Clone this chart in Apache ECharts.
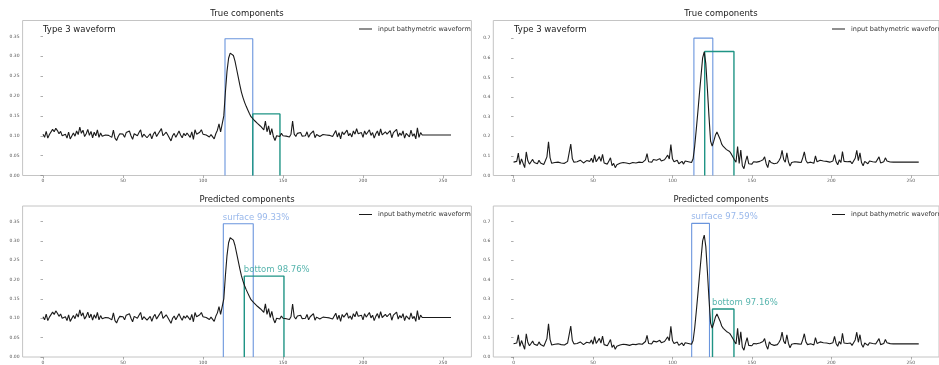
<!DOCTYPE html>
<html><head><meta charset="utf-8">
<script src="https://cdn.jsdelivr.net/npm/echarts@6/dist/echarts.min.js"></script>
<style>html,body{margin:0;padding:0;background:#fff}#c{width:939px;height:365px}</style>
</head><body><div id="c"></div>
<script>
// ---- left waveform (index 0..255) ----
const leftPre = [
0.104,0.096,0.111,0.094,0.103,0.098,0.116,0.110,0.119,0.113,
0.105,0.111,0.100,0.098,0.104,0.094,0.109,0.092,0.088,0.107,
0.099,0.112,0.103,0.122,0.106,0.114,0.098,0.105,0.116,0.101,
0.111,0.095,0.109,0.100,0.115,0.096,0.107,0.099,0.104,0.102,
0.097,0.101,0.100,0.096,0.114,0.094,0.088,0.098,0.105,0.100,
0.104,0.096,0.108,0.103,0.112,0.100,0.091,0.105,0.110,0.100,
0.108,0.115,0.096,0.104,0.101,0.095,0.100,0.105,0.092,0.104,
0.110,0.098,0.105,0.102,0.118,0.100,0.095,0.109,0.102,0.107,
0.087,0.100,0.106,0.096,0.104,0.112,0.102,0.095,0.106,0.100,
0.107,0.103,0.096,0.110,0.091,0.115,0.104,0.100,0.109,0.115,
0.104,0.107,0.102,0.100,0.097,0.103,0.099,0.092,0.105,0.114,
0.130,0.110];
const leftPulse = [
0.108,0.150,0.210,0.262,0.295,0.308,0.310,0.302,0.288,0.268,
0.248,0.228,0.210,0.196,0.184,0.174,0.165,0.156,0.148,0.143,
0.139,0.136,0.131,0.128,0.124,0.120,0.115,0.137,0.110,0.125,
0.102,0.118,0.098,0.088];
const leftPost = [
0.100,0.104,0.098,0.106,0.100,0.103,0.099,0.101,0.097,0.104,
0.137,0.104,0.098,0.106,0.101,0.108,0.099,0.103,0.100,0.110,
0.096,0.104,0.101,0.112,0.095,0.103,0.100,0.098,0.101,0.103,
0.100,0.102,0.099,0.101,0.104,0.098,0.102,0.113,0.097,0.108,
0.092,0.110,0.103,0.099,0.114,0.100,0.106,0.097,0.112,0.104,
0.118,0.105,0.100,0.108,0.096,0.112,0.103,0.099,0.115,0.101,
0.108,0.094,0.105,0.112,0.100,0.117,0.102,0.097,0.110,0.104,
0.099,0.113,0.095,0.108,0.103,0.116,0.098,0.107,0.101,0.112,
0.094,0.106,0.110,0.097,0.114,0.099,0.105,0.092,0.120,0.096,
0.108,0.102];
const leftTail = [0.102,0.102,0.102,0.102,0.102,0.102,0.102,0.102,0.102,
0.102,0.102,0.102,0.102,0.102,0.102,0.102,0.102,0.102];

// ---- right waveform (index 0..255) ----
const rightPre = [
0.068,0.060,0.072,0.114,0.055,0.085,0.062,0.040,0.120,0.075,
0.058,0.070,0.082,0.066,0.072,0.060,0.078,0.064,0.070,0.056,
0.075,0.095,0.172,0.090,0.062,0.070,0.066,0.074,0.068,0.078,
0.064,0.070,0.062,0.058,0.072,0.080,0.160,0.085,0.068,0.074,
0.070,0.066,0.078,0.072,0.064,0.070,0.076,0.068,0.072,0.088,
0.066,0.105,0.070,0.060,0.096,0.072,0.108,0.064,0.070,0.058,
0.074,0.090,0.050,0.062,0.040,0.055,0.048,0.062,0.052,0.066,
0.058,0.064,0.068,0.060,0.070,0.066,0.072,0.064,0.074,0.068,
0.076,0.066,0.072,0.080,0.112,0.070,0.076,0.068,0.082,0.072,
0.078,0.070,0.086,0.074,0.068,0.080,0.092,0.104,0.084,0.158,
0.085,0.070,0.064,0.078,0.060,0.066,0.072,0.058,0.074,0.064,
0.070,0.062,0.066];
const rightPulse = [
0.085,0.150,0.235,0.325,0.420,0.510,0.600,0.630,0.570,0.440,
0.300,0.175,0.150,0.175,0.205,0.222,0.215,0.185,0.160,0.148,
0.140,0.132,0.128,0.122,0.110,0.095];
const rightPost = [
0.080,0.068,0.148,0.062,0.130,0.050,0.035,0.072,0.100,0.060,
0.066,0.058,0.070,0.064,0.068,0.062,0.072,0.066,0.080,0.095,
0.060,0.040,0.078,0.066,0.072,0.060,0.070,0.064,0.075,0.090,
0.128,0.082,0.068,0.115,0.070,0.048,0.066,0.058,0.070,0.062,
0.068,0.074,0.066,0.090,0.120,0.078,0.064,0.072,0.068,0.076,
0.062,0.100,0.070,0.066,0.078,0.070,0.074,0.064,0.072,0.080,
0.068,0.062,0.074,0.107,0.070,0.055,0.080,0.066,0.122,0.072,
0.064,0.070,0.066,0.072,0.060,0.074,0.088,0.128,0.076,0.115,
0.066,0.050,0.072,0.068,0.060,0.074,0.066,0.070,0.062,0.068,
0.072,0.095,0.064,0.058,0.070,0.090,0.074,0.066,0.069];
const rightTail = [0.068,0.068,0.068,0.068,0.068,0.068,0.068,0.068,0.068,
0.068,0.068,0.068,0.068,0.068,0.068,0.068,0.068,0.068];

// ---- component boxes: [start index, end index, height] ----
const trueLeftSurface = [113.75, 131.1, 0.344];
const trueLeftBottom = [131.1, 148.1, 0.155];
const trueRightSurface = [113.5, 125.4, 0.700];
const trueRightBottom = [120.3, 138.7, 0.632];
const predLeftSurface = [112.7, 131.4, 0.344];
const predLeftBottom = [125.8, 150.6, 0.209];
const predRightSurface = [112.1, 123.3, 0.690];
const predRightBottom = [125.2, 138.7, 0.248];
const predLeftLabels = ['surface 99.33%', 'bottom 98.76%'];
const predRightLabels = ['surface 97.59%', 'bottom 97.16%'];

const xTicks = [0, 50, 100, 150, 200, 250];
const leftYTicks = [0, 0.05, 0.10, 0.15, 0.20, 0.25, 0.30, 0.35];
const rightYTicks = [0, 0.1, 0.2, 0.3, 0.4, 0.5, 0.6, 0.7];

const leftWave = leftPre.concat(leftPulse, leftPost, leftTail);
const rightWave = rightPre.concat(rightPulse, rightPost, rightTail);

const FONT = 'DejaVu Sans';
const SURF = '#6a95dd', BOT = '#1f9485';
const SURF_T = '#7fa6e6', BOT_T = '#2ea39a';
const LEG = 'input bathymetric waveform';

const panels = [
  {wave: leftWave, yMax: 0.39, yTicks: leftYTicks, dec: 2, boxes: [trueLeftSurface, trueLeftBottom], labels: null,
   grid: {left: 22.6, top: 20.5, width: 448.8, height: 155}},
  {wave: rightWave, yMax: 0.79, yTicks: rightYTicks, dec: 1, boxes: [trueRightSurface, trueRightBottom], labels: null,
   grid: {left: 493.3, top: 20.5, width: 455.5, height: 155}},
  {wave: leftWave, yMax: 0.39, yTicks: leftYTicks, dec: 2, boxes: [predLeftSurface, predLeftBottom], labels: predLeftLabels,
   grid: {left: 22.6, top: 206, width: 448.8, height: 154}},
  {wave: rightWave, yMax: 0.78, yTicks: rightYTicks, dec: 1, boxes: [predRightSurface, predRightBottom], labels: predRightLabels,
   grid: {left: 493.3, top: 206, width: 455.5, height: 154}}
];

const grids = [], xAxes = [], yAxes = [], series = [];
panels.forEach((p, i) => {
  grids.push(Object.assign({show: true, borderColor: '#c4c4c4', borderWidth: 1, backgroundColor: '#fff'}, p.grid));
  xAxes.push({type: 'value', gridIndex: i, min: -12.75, max: 267.75,
    axisLine: {show: false}, splitLine: {show: false},
    axisTick: {show: true, length: 2.5, customValues: xTicks, lineStyle: {color: '#777', width: 0.6}},
    axisLabel: {customValues: xTicks, fontSize: 4.5, color: '#555', margin: 3, fontFamily: FONT}});
  yAxes.push({type: 'value', gridIndex: i, min: 0, max: p.yMax,
    axisLine: {show: false}, splitLine: {show: false},
    axisTick: {show: true, length: 2.5, customValues: p.yTicks, lineStyle: {color: '#777', width: 0.6}},
    axisLabel: {customValues: p.yTicks, fontSize: 4.5, color: '#555', margin: 3, fontFamily: FONT,
      formatter: v => Number(v).toFixed(p.dec)}});
  p.boxes.forEach((b, k) => {
    series.push({type: 'line', xAxisIndex: i, yAxisIndex: i, symbol: 'none', silent: true, z: 3,
      lineStyle: {color: k === 0 ? SURF : BOT, width: k === 0 ? 1.1 : 1.4},
      data: [[b[0], 0], [b[0], b[2]], [b[1], b[2]], [b[1], 0]]});
    if (p.labels) {
      series.push({type: 'scatter', xAxisIndex: i, yAxisIndex: i, symbolSize: 1, silent: true, z: 5,
        itemStyle: {color: 'rgba(0,0,0,0)'},
        data: [[b[0], b[2]]],
        label: {show: true, formatter: p.labels[k], position: [0, -6], align: 'left', verticalAlign: 'middle',
          fontSize: 8.5, fontFamily: FONT, color: k === 0 ? SURF_T : BOT_T}});
    }
  });
  series.push({type: 'line', name: LEG, xAxisIndex: i, yAxisIndex: i, symbol: 'none', z: 4,
    lineStyle: {color: '#1a1a1a', width: 1.1}, itemStyle: {color: '#1a1a1a'},
    data: p.wave.map((v, j) => [j, v])});
});

const legendBase = {data: [LEG], icon: 'path://M0,0L20,0L20,1.5L0,1.5Z', itemWidth: 13, itemHeight: 1.5, itemGap: 0, padding: 0,
  selectedMode: false, textStyle: {fontSize: 6.5, color: '#333', fontFamily: FONT, padding: [0, 0, 0, 1]}};

const TS = {fontSize: 8.5, fontWeight: 'normal', color: '#222', fontFamily: FONT};
const option = {
  animation: false,
  backgroundColor: '#fff',
  title: [
    {text: 'True components', left: 247, top: 9, textAlign: 'center', padding: 0, textStyle: TS},
    {text: 'True components', left: 721, top: 9, textAlign: 'center', padding: 0, textStyle: TS},
    {text: 'Predicted components', left: 247, top: 195, textAlign: 'center', padding: 0, textStyle: TS},
    {text: 'Predicted components', left: 721, top: 195, textAlign: 'center', padding: 0, textStyle: TS},
    {text: 'Type 3 waveform', left: 43, top: 25, padding: 0, textStyle: TS},
    {text: 'Type 3 waveform', left: 514, top: 25, padding: 0, textStyle: TS}
  ],
  legend: [
    Object.assign({left: 359, top: 25.5}, legendBase),
    Object.assign({left: 832, top: 25.5}, legendBase),
    Object.assign({left: 359, top: 211}, legendBase),
    Object.assign({left: 832, top: 211}, legendBase)
  ],
  grid: grids, xAxis: xAxes, yAxis: yAxes, series: series
};
const chart = echarts.init(document.getElementById('c'), null, {renderer: 'canvas'});
chart.setOption(option);
</script></body></html>
